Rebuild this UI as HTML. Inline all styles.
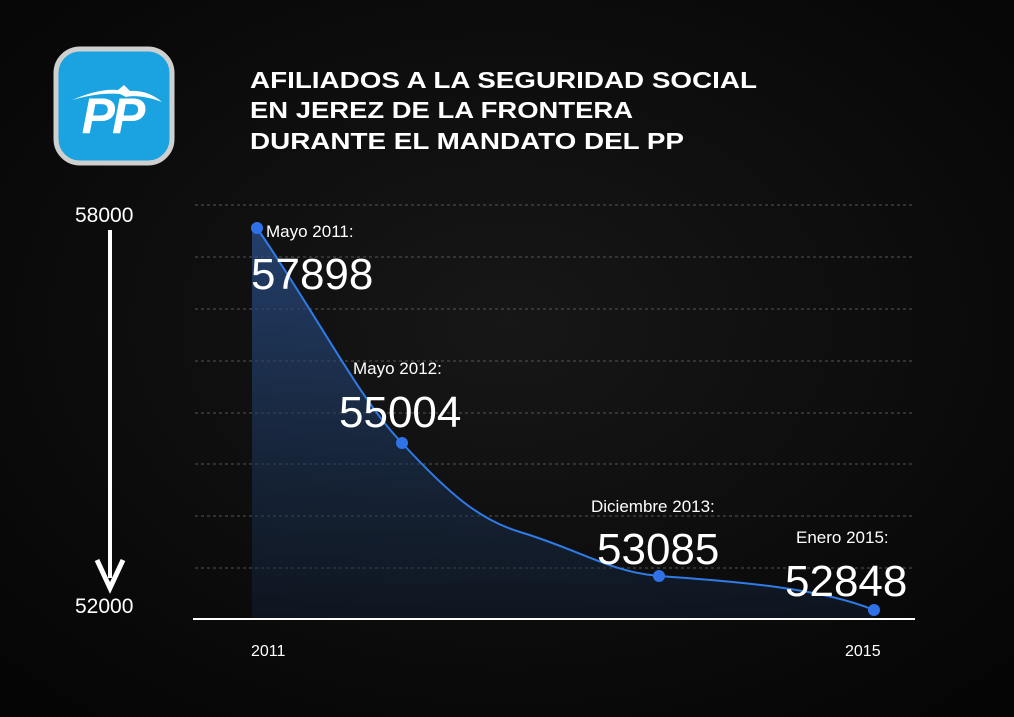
<!DOCTYPE html>
<html><head><style>
body{margin:0;width:1014px;height:717px;background:#0b0b0b;overflow:hidden;font-family:"Liberation Sans",sans-serif;}
</style></head><body>
<svg width="1014" height="717" viewBox="0 0 1014 717" xmlns="http://www.w3.org/2000/svg" style="position:absolute;left:0;top:0">
<defs>
<radialGradient id="bg" cx="50%" cy="45%" r="70%"><stop offset="0" stop-color="#171717"/><stop offset="1" stop-color="#050505"/></radialGradient>
<linearGradient id="fill" x1="0" y1="0" x2="0" y2="1"><stop offset="0" stop-color="#2a4f8a" stop-opacity="0.75"/><stop offset="1" stop-color="#12243d" stop-opacity="0.4"/></linearGradient>
</defs>
<rect width="1014" height="717" fill="url(#bg)"/>
<g stroke="#555" stroke-width="1" stroke-dasharray="3,3">
<line x1="195" y1="205" x2="915" y2="205"/><line x1="195" y1="257" x2="915" y2="257"/>
<line x1="195" y1="309" x2="915" y2="309"/><line x1="195" y1="361" x2="915" y2="361"/>
<line x1="195" y1="413" x2="915" y2="413"/><line x1="195" y1="464" x2="915" y2="464"/>
<line x1="195" y1="516" x2="915" y2="516"/><line x1="195" y1="568" x2="915" y2="568"/>
</g>
<path d="M252,228 L257,228 C320,320 360,400 402,443 C450,495 480,520 520,532 C580,550 610,572 659,576 C740,582 820,588 874,610 L874,619 L252,619 Z" fill="url(#fill)"/>
<path d="M257,228 C320,320 360,400 402,443 C450,495 480,520 520,532 C580,550 610,572 659,576 C740,582 820,588 874,610" fill="none" stroke="#2f7be8" stroke-width="2"/>
<line x1="193" y1="619" x2="915" y2="619" stroke="#fff" stroke-width="2"/>
<g fill="#2f72e8"><circle cx="257" cy="228" r="6"/><circle cx="402" cy="443" r="6"/><circle cx="659" cy="576" r="6"/><circle cx="874" cy="610" r="6"/></g>
<line x1="110" y1="230" x2="110" y2="578" stroke="#fff" stroke-width="4"/>
<path d="M97,560 L110,588 L123,560" fill="none" stroke="#fff" stroke-width="5"/>
<rect x="56" y="49" width="116" height="114" rx="24" fill="#1aa3e0" stroke="#cfcfcf" stroke-width="5"/>
<path d="M72,100 Q100,88 118,90 L124,85 L130,91 Q148,90 162,102 Q140,94 126,97 L120,94 Q100,92 72,100Z" fill="#fff"/>
<g fill="#fff" font-family="Liberation Sans,sans-serif">
<text x="112" y="133" font-size="50" font-weight="bold" font-style="italic" text-anchor="middle" letter-spacing="-3">PP</text>
<text x="250" y="88" font-size="23" font-weight="bold" textLength="507" lengthAdjust="spacingAndGlyphs">AFILIADOS A LA SEGURIDAD SOCIAL</text>
<text x="250" y="118" font-size="23" font-weight="bold" textLength="383" lengthAdjust="spacingAndGlyphs">EN JEREZ DE LA FRONTERA</text>
<text x="250" y="149" font-size="23" font-weight="bold" textLength="434" lengthAdjust="spacingAndGlyphs">DURANTE EL MANDATO DEL PP</text>
<text x="75" y="222" font-size="21">58000</text>
<text x="75" y="613" font-size="21">52000</text>
<text x="266" y="237" font-size="17">Mayo 2011:</text>
<text x="251" y="289" font-size="44">57898</text>
<text x="353" y="374" font-size="17">Mayo 2012:</text>
<text x="339" y="427" font-size="44">55004</text>
<text x="591" y="512" font-size="17">Diciembre 2013:</text>
<text x="597" y="564" font-size="44">53085</text>
<text x="796" y="543" font-size="17">Enero 2015:</text>
<text x="785" y="596" font-size="44">52848</text>
<text x="251" y="656" font-size="16">2011</text>
<text x="845" y="656" font-size="16">2015</text>
</g>
</svg>
</body></html>
